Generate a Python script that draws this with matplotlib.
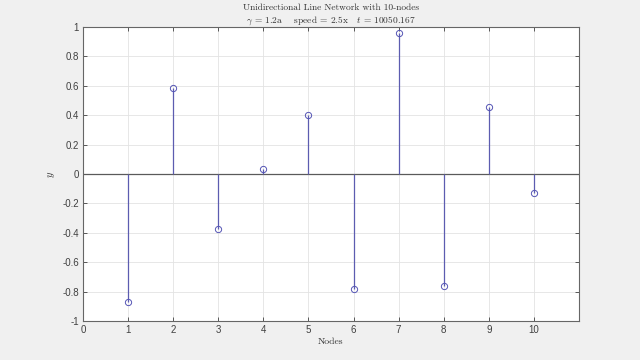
import matplotlib
matplotlib.use("Agg")
import matplotlib.pyplot as plt
import numpy as np

plt.rcParams['mathtext.fontset'] = 'cm'

nodes = [1, 2, 3, 4, 5, 6, 7, 8, 9, 10]
y_values = [-0.87, 0.585, -0.374, 0.034, 0.40, -0.78, 0.96, -0.76, 0.455, -0.13]
x_ticks = [0, 1, 2, 3, 4, 5, 6, 7, 8, 9, 10]
y_ticks = [-1, -0.8, -0.6, -0.4, -0.2, 0, 0.2, 0.4, 0.6, 0.8, 1]
y_ticklabels = ['-1', '-0.8', '-0.6', '-0.4', '-0.2', '0', '0.2', '0.4', '0.6', '0.8', '1']

fig = plt.figure(figsize=(6.4, 3.6), dpi=100, facecolor='#f0f0f0')
ax = fig.add_axes([83/640, 1-321/360, (579-83)/640, (321-27)/360])
ax.set_facecolor('white')

ax.axhline(0, color='#5a5a5a', lw=0.9, zorder=2)
ml, sl, bl = ax.stem(nodes, y_values, basefmt=' ')
plt.setp(sl, color='#5c5cb0', lw=0.9)
plt.setp(ml, marker='o', markersize=4.5, markerfacecolor='none',
         markeredgecolor='#5555b5', markeredgewidth=0.7)

ax.set_xlim(0, 11)
ax.set_ylim(-1, 1)
ax.set_xticks(x_ticks)
ax.set_yticks(y_ticks)
ax.set_yticklabels(y_ticklabels)
ax.grid(True, color='#e3e3e3', lw=0.6)
ax.set_axisbelow(True)
ax.tick_params(direction='in', top=True, right=True, labelsize=7,
               length=3, width=0.6, colors='#404040', pad=3)
for lab in ax.get_xticklabels() + ax.get_yticklabels():
    lab.set_family('Liberation Sans')
for s in ax.spines.values():
    s.set_color('#666666')
    s.set_linewidth(0.8)

ax.set_xlabel('Nodes', family='cmr10', fontsize=7, labelpad=2, color='#333333')
ax.set_ylabel(r'$y$', fontsize=7.5, labelpad=4, color='#333333')
ax.set_title('Unidirectional Line Network with 10-nodes\n'
             r'$\gamma$ = 1.2a    speed = 2.5x   $t$ = 10050.167',
             family='cmr10', fontsize=6.8, pad=3, linespacing=1.35, color='#333333')

fig.savefig('out.png', dpi=100, facecolor=fig.get_facecolor())
